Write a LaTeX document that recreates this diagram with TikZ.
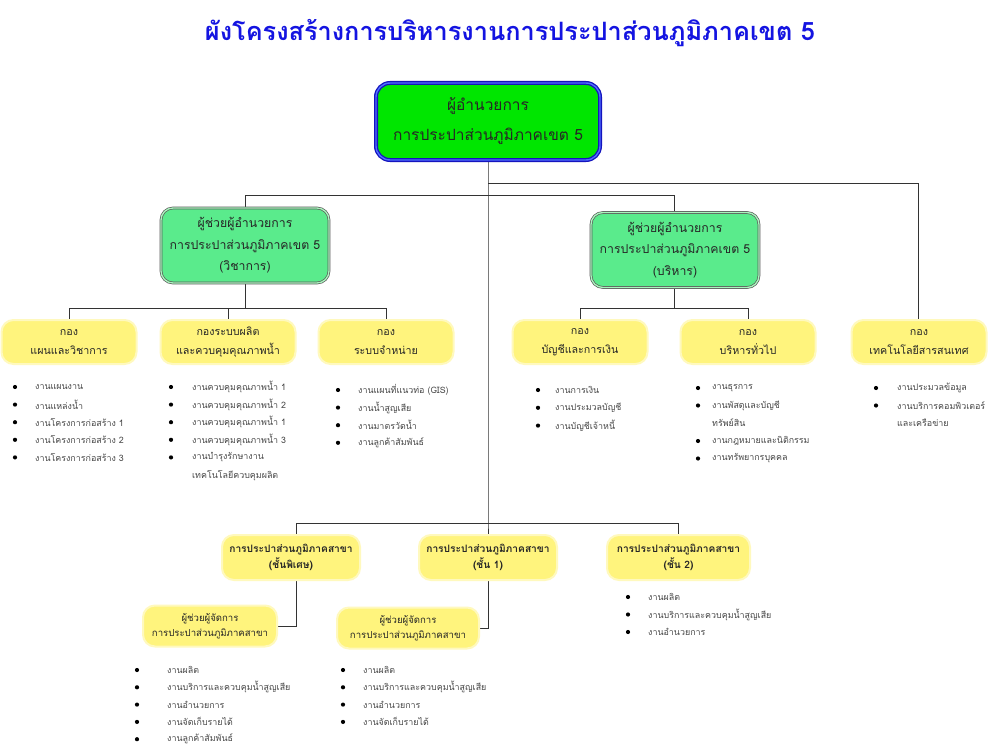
\documentclass[tikz,border=0pt]{standalone}
\usepackage{fontspec}
\newfontfamily\thai[Script=Thai]{Loma}
\definecolor{topgreen}{RGB}{0,230,0}
\definecolor{topblue}{RGB}{20,20,190}
\definecolor{topblueb}{RGB}{80,110,255}
\definecolor{asgreen}{RGB}{90,235,140}
\definecolor{asgreenb}{RGB}{170,245,190}
\definecolor{yfill}{RGB}{255,244,125}
\definecolor{yedge}{RGB}{255,249,190}
\definecolor{titleblue}{RGB}{20,20,225}
\begin{document}
\begin{tikzpicture}[x=1pt,y=-1pt,
  topbox/.style={rounded corners=14pt, fill=topgreen, draw=topblue, line width=1.3pt, double=topblueb, double distance=1.4pt, minimum width=224pt, minimum height=77pt, align=center, font=\thai\fontsize{15.5}{30}\selectfont, text=black!85},
  asbox/.style={rounded corners=12pt, fill=asgreen, draw=black!65, line width=0.7pt, double=asgreenb, double distance=1.3pt, minimum width=168pt, minimum height=75pt, align=center, font=\thai\fontsize{12.3}{21.5}\selectfont, text=black!85},
  ybox/.style={rounded corners=12pt, fill=yfill, draw=yedge, line width=2pt, align=center, text=black!85},
  divbox/.style={ybox, minimum width=135pt, minimum height=44pt, font=\thai\fontsize{10.7}{19}\selectfont},
  brbox/.style={ybox, minimum width=138pt, minimum height=45pt, font=\thai\bfseries\fontsize{10.2}{15.5}\selectfont},
  mgbox/.style={ybox, minimum height=41pt, font=\thai\fontsize{9.6}{15}\selectfont},
  itm/.style={anchor=west, inner sep=0pt, font=\thai\fontsize{8.9}{12}\selectfont, text=black!72},
  bul/.style={fill=black},
  conn/.style={draw=black!80, line width=0.7pt}
]
\useasboundingbox (0,0) rectangle (989,752);
\fill[white] (0,0) rectangle (989,752);

% title
\node[font=\thai\bfseries\fontsize{25.3}{30}\selectfont, text=titleblue, inner sep=0pt] (title) at (510,33) {ผังโครงสร้างการบริหารงานการประปาส่วนภูมิภาคเขต 5};

% coordinates for connectors
\coordinate (j1) at (488,183);
\coordinate (j2) at (488,195);
\coordinate (j3) at (488,523);
\coordinate (hL) at (245,195);
\coordinate (hR) at (674,195);
\coordinate (hIT) at (918,183);
\coordinate (dL) at (245,308);
\coordinate (dR) at (674,308);
\coordinate (b1t) at (296,523);
\coordinate (b3t) at (678,523);
\coordinate (b1b) at (296,626);
\coordinate (b2b) at (488,628);

% connectors (drawn first)
\draw[conn] (488,161) -- (j3) -- (488,535);
\draw[conn] (j1) -- (hIT) -- (918,320);
\draw[conn] (hL) -- (hR);
\draw[conn] (hL) -- (245,207);
\draw[conn] (hR) -- (674,212);
\draw[conn] (245,284) -- (dL);
\draw[conn] (69,320) -- (69,308) -- (386,308) -- (386,320);
\draw[conn] (228,308) -- (228,320);
\draw[conn] (674,288) -- (dR);
\draw[conn] (580,320) -- (580,308) -- (748,308) -- (748,320);
\draw[conn] (b1t) -- (b3t);
\draw[conn] (b1t) -- (296,535);
\draw[conn] (b3t) -- (678,535);
\draw[conn] (296,580) -- (b1b) -- (277,626);
\draw[conn] (488,580) -- (b2b) -- (479,628);

% top node
\node[topbox] (top) at (488,121.5) {ผู้อำนวยการ\\การประปาส่วนภูมิภาคเขต 5};

% assistants
\node[asbox] (asL) at (245,245.5) {ผู้ช่วยผู้อำนวยการ\\การประปาส่วนภูมิภาคเขต 5\\(วิชาการ)};
\node[asbox] (asR) at (675,250) {ผู้ช่วยผู้อำนวยการ\\การประปาส่วนภูมิภาคเขต 5\\(บริหาร)};

% divisions
\node[divbox] (d1) at (69,342) {กอง\\แผนและวิชาการ};
\node[divbox] (d2) at (228,342) {กองระบบผลิต\\และควบคุมคุณภาพน้ำ};
\node[divbox] (d3) at (386,342) {กอง\\ระบบจำหน่าย};
\node[divbox] (d4) at (580,342) {กอง\\บัญชีและการเงิน};
\node[divbox] (d5) at (748,342) {กอง\\บริหารทั่วไป};
\node[divbox] (d6) at (919,342) {กอง\\เทคโนโลยีสารสนเทศ};

% lists
\foreach \t [count=\i from 0] in {{งานแผนงาน},{งานแหล่งน้ำ},{งานโครงการก่อสร้าง 1},{งานโครงการก่อสร้าง 2},{งานโครงการก่อสร้าง 3}}
 {\fill[bul] (15,387+17.6*\i) circle (2.1); \node[itm] (la\i) at (35,387+17.6*\i) {\t};}
\foreach \t [count=\i from 0] in {{งานควบคุมคุณภาพน้ำ 1},{งานควบคุมคุณภาพน้ำ 2},{งานควบคุมคุณภาพน้ำ 1},{งานควบคุมคุณภาพน้ำ 3},{งานบำรุงรักษางาน}}
 {\fill[bul] (171,387+17.6*\i) circle (2.1); \node[itm] (lb\i) at (192,387+17.6*\i) {\t};}
\node[itm] (lb5) at (192,475.5) {เทคโนโลยีควบคุมผลิต};
\foreach \t [count=\i from 0] in {{งานแผนที่แนวท่อ (GIS)},{งานน้ำสูญเสีย},{งานมาตรวัดน้ำ},{งานลูกค้าสัมพันธ์}}
 {\fill[bul] (338,390+17.6*\i) circle (2.1); \node[itm] (lc\i) at (358,390+17.6*\i) {\t};}
\foreach \t [count=\i from 0] in {{งานการเงิน},{งานประมวลบัญชี},{งานบัญชีเจ้าหนี้}}
 {\fill[bul] (538,390+17.8*\i) circle (2.1); \node[itm] (ld\i) at (555,390+17.8*\i) {\t};}
\fill[bul] (698,388) circle (2.1); \node[itm] (le0) at (712,388) {งานธุรการ};
\fill[bul] (698,405.5) circle (2.1); \node[itm] (le1) at (712,405.5) {งานพัสดุและบัญชี};
\node[itm] (le2) at (712,423) {ทรัพย์สิน};
\fill[bul] (698,441) circle (2.1); \node[itm] (le3) at (712,441) {งานกฎหมายและนิติกรรม};
\fill[bul] (698,458.5) circle (2.1); \node[itm] (le4) at (712,458.5) {งานทรัพยากรบุคคล};
\fill[bul] (876,388) circle (2.1); \node[itm] (lf0) at (897,388) {งานประมวลข้อมูล};
\fill[bul] (876,405.5) circle (2.1); \node[itm] (lf1) at (897,405.5) {งานบริการคอมพิวเตอร์};
\node[itm] (lf2) at (897,423) {และเครือข่าย};

% branches
\node[brbox] (br1) at (291,557.5) {การประปาส่วนภูมิภาคสาขา\\(ชั้นพิเศษ)};
\node[brbox] (br2) at (488,557.5) {การประปาส่วนภูมิภาคสาขา\\(ชั้น 1)};
\node[brbox, minimum width=143pt] (br3) at (678.5,557.5) {การประปาส่วนภูมิภาคสาขา\\(ชั้น 2)};
\node[mgbox, minimum width=134pt] (mg1) at (210,626) {ผู้ช่วยผู้จัดการ\\การประปาส่วนภูมิภาคสาขา};
\node[mgbox, minimum width=142pt] (mg2) at (408,628) {ผู้ช่วยผู้จัดการ\\การประปาส่วนภูมิภาคสาขา};

\foreach \t [count=\i from 0] in {{งานผลิต},{งานบริการและควบคุมน้ำสูญเสีย},{งานอำนวยการ},{งานจัดเก็บรายได้},{งานลูกค้าสัมพันธ์}}
 {\fill[bul] (137,670+17.3*\i) circle (2.1); \node[itm] (lg\i) at (167,670+17.3*\i) {\t};}
\foreach \t [count=\i from 0] in {{งานผลิต},{งานบริการและควบคุมน้ำสูญเสีย},{งานอำนวยการ},{งานจัดเก็บรายได้}}
 {\fill[bul] (343,670+17.3*\i) circle (2.1); \node[itm] (lh\i) at (363,670+17.3*\i) {\t};}
\foreach \t [count=\i from 0] in {{งานผลิต},{งานบริการและควบคุมน้ำสูญเสีย},{งานอำนวยการ}}
 {\fill[bul] (628,597+17.5*\i) circle (2.1); \node[itm] (li\i) at (648,597+17.5*\i) {\t};}
\end{tikzpicture}
\end{document}
